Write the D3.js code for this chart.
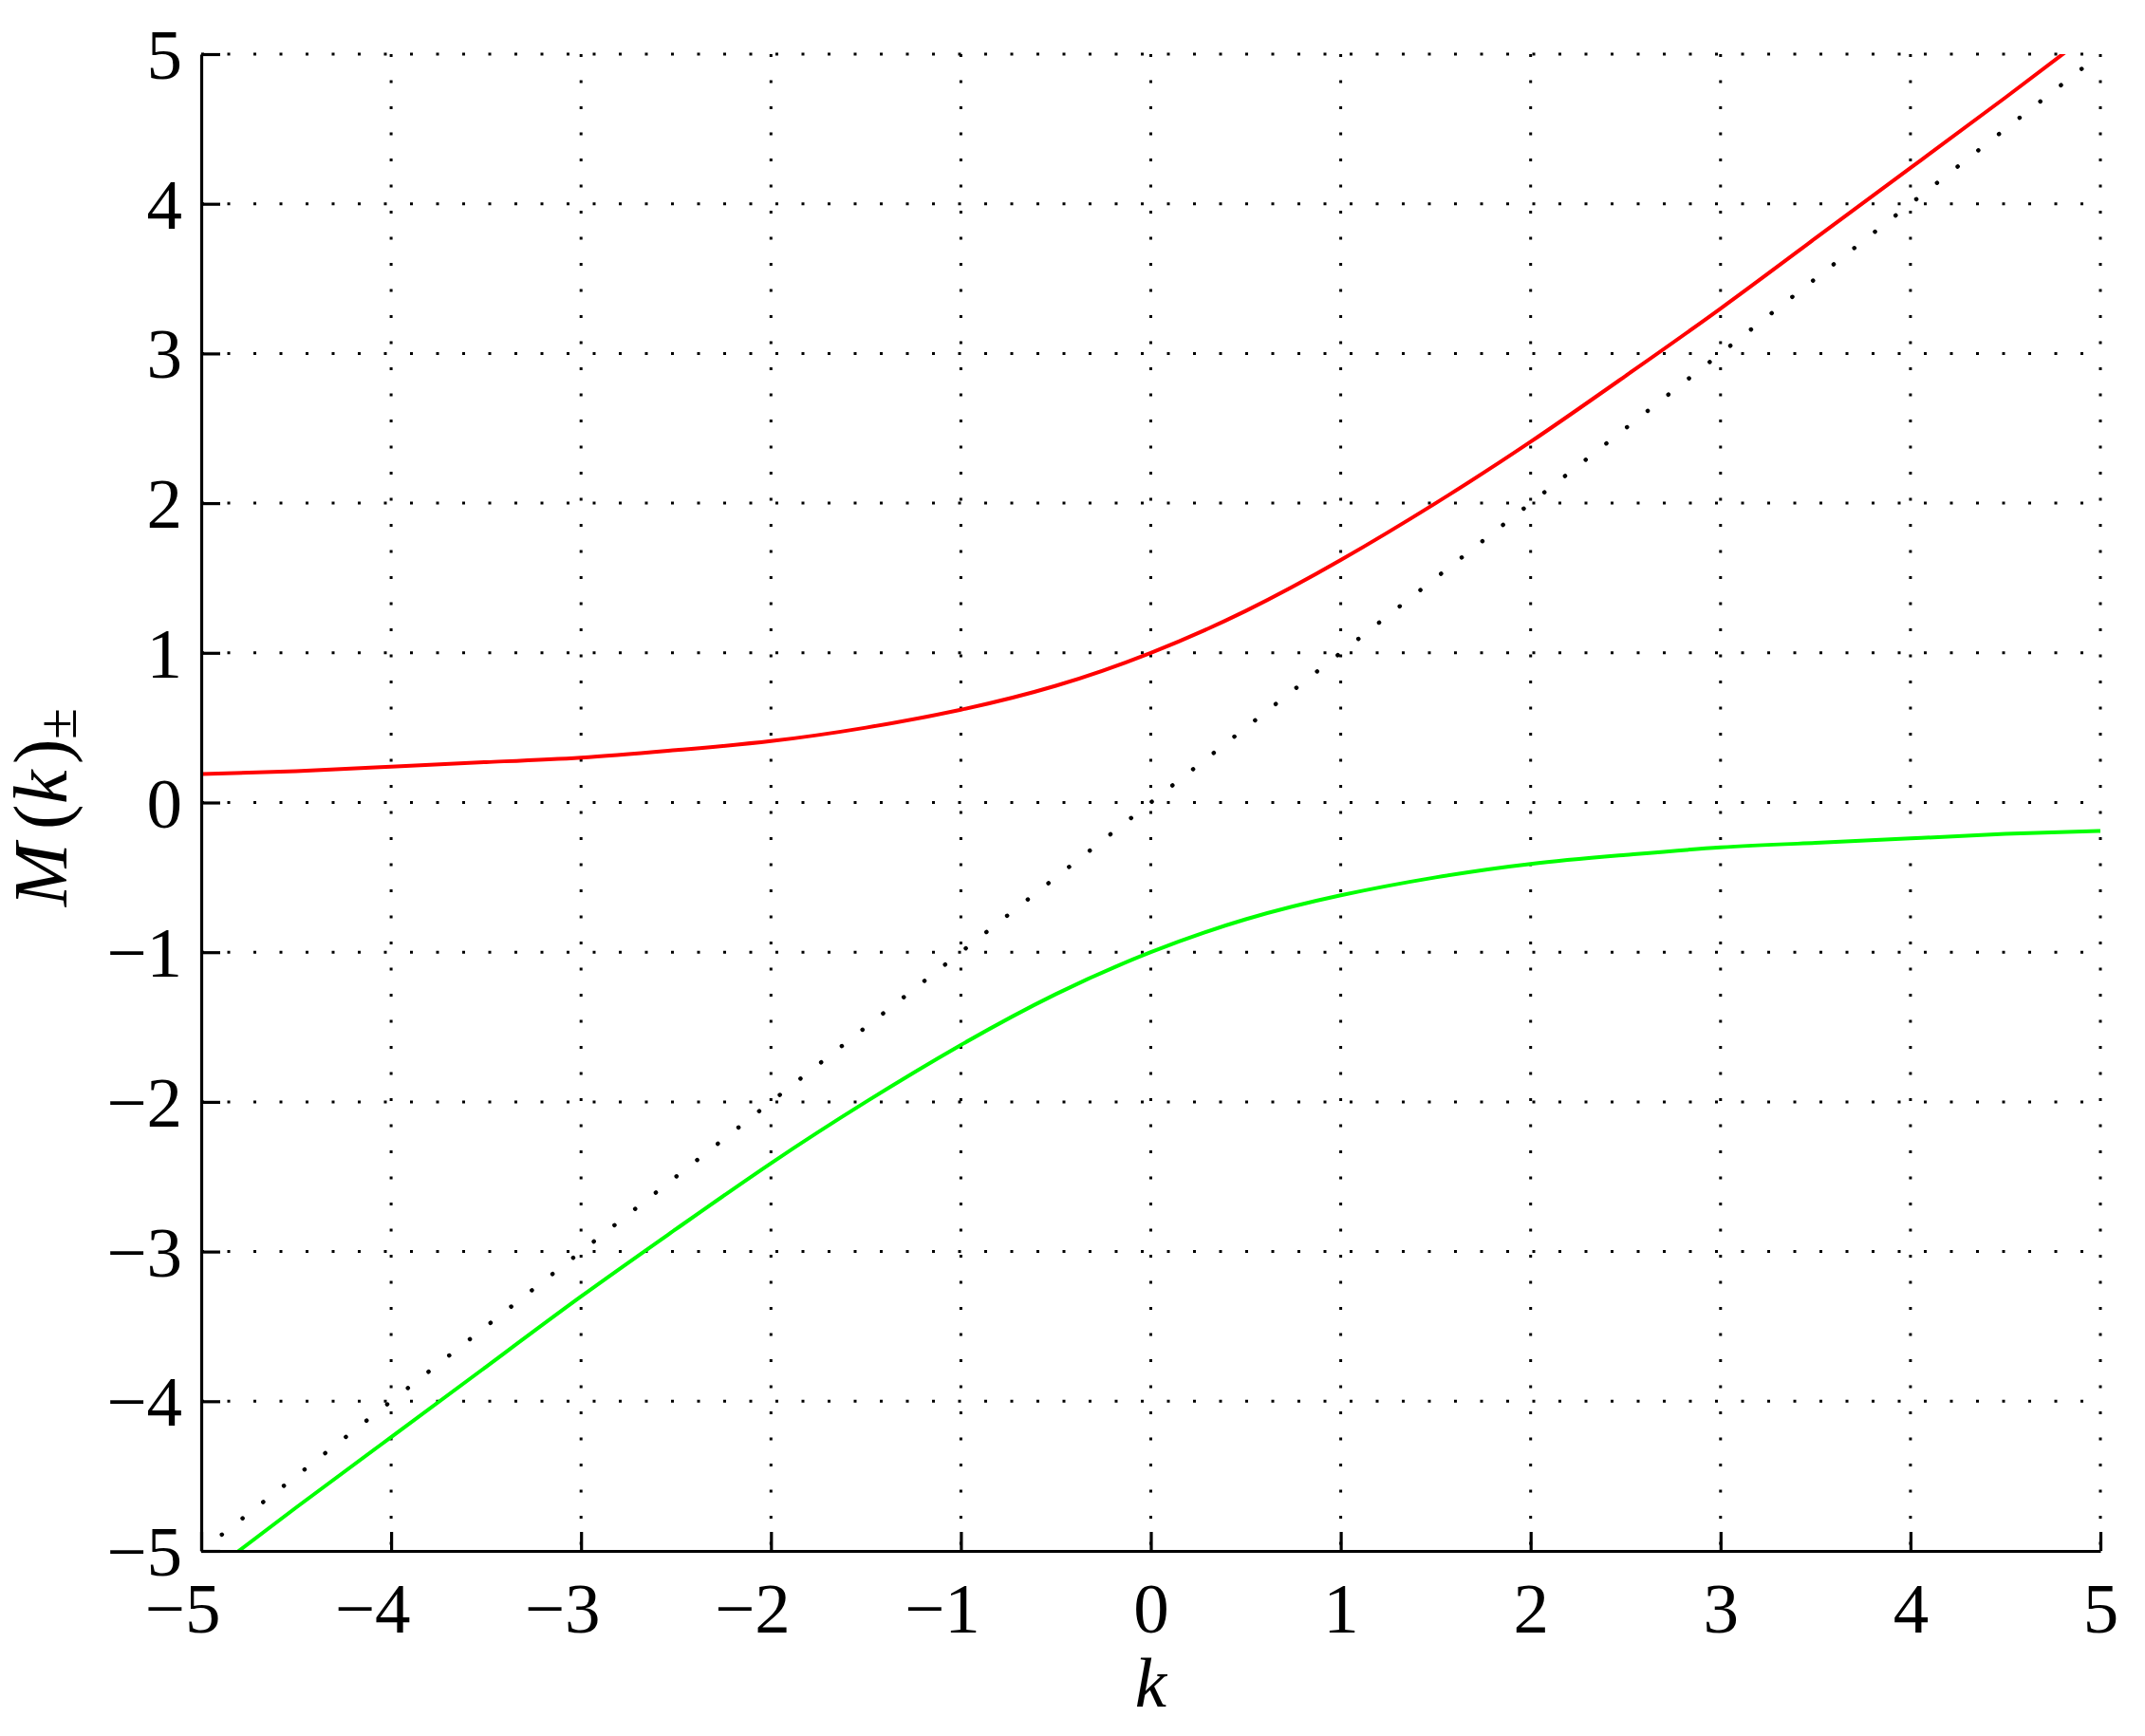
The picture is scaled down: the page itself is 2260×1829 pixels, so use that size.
<!DOCTYPE html>
<html>
<head>
<meta charset="utf-8">
<script src="https://cdn.jsdelivr.net/npm/d3@7"></script>
<style>
  body { margin: 0; background: #fff; }
</style>
</head>
<body>
<div id="chart"></div>
<script>
// values
const kValues = [-5, -4.5, -4, -3.5, -3, -2.5, -2, -1.5, -1, -0.5,
  0, 0.5, 1, 1.5, 2, 2.5, 3, 3.5, 4, 4.5, 5];
const mPlus = [0.19, 0.21, 0.24, 0.27, 0.30, 0.35, 0.41, 0.50, 0.62, 0.78,
  1.00, 1.28, 1.62, 2.00, 2.41, 2.85, 3.30, 3.77, 4.24, 4.71, 5.19];
const mMinus = [-5.19, -4.71, -4.24, -3.77, -3.30, -2.85, -2.41, -2.00, -1.62, -1.28,
  -1.00, -0.78, -0.62, -0.50, -0.41, -0.35, -0.30, -0.27, -0.24, -0.21, -0.19];
const diagK = [-5, 5];
const diagM = [-5, 5];
const xTicks = [-5, -4, -3, -2, -1, 0, 1, 2, 3, 4, 5];
const yTicks = [-5, -4, -3, -2, -1, 0, 1, 2, 3, 4, 5];

const width = 2260;
const height = 1829;
const margin = {top: 57, right: 47, bottom: 195, left: 212};
const font = "'Liberation Serif', 'Times New Roman', serif";

const svg = d3.select("#chart")
  .append("svg")
  .attr("width", width)
  .attr("height", height)
  .style("background-color", "#fff");

const x = d3.scaleLinear().domain([-5, 5]).range([margin.left, width - margin.right]);
const y = d3.scaleLinear().domain([-5, 5]).range([height - margin.bottom, margin.top]);

svg.append("clipPath")
  .attr("id", "plot-clip")
  .append("rect")
  .attr("x", x(-5))
  .attr("y", y(5))
  .attr("width", x(5) - x(-5))
  .attr("height", y(-5) - y(5));

// dotted grid
const grid = svg.append("g")
  .attr("stroke", "#000")
  .attr("stroke-width", 3)
  .attr("stroke-dasharray", "3 24.5");

grid.selectAll("line.h")
  .data(yTicks.slice(1))
  .join("line")
  .attr("class", "h")
  .attr("x1", x(-5))
  .attr("x2", x(5))
  .attr("y1", d => y(d))
  .attr("y2", d => y(d));

grid.selectAll("line.v")
  .data(xTicks.slice(1))
  .join("line")
  .attr("class", "v")
  .attr("x1", d => x(d))
  .attr("x2", d => x(d))
  .attr("y1", y(5))
  .attr("y2", y(-5));

const plot = svg.append("g").attr("clip-path", "url(#plot-clip)");

// k = M reference line
plot.append("path")
  .datum(diagK.map((k, i) => [k, diagM[i]]))
  .attr("fill", "none")
  .attr("stroke", "#000")
  .attr("stroke-width", 4.5)
  .attr("stroke-linecap", "round")
  .attr("stroke-dasharray", "0.1 27.62")
  .attr("d", d3.line().x(d => x(d[0])).y(d => y(d[1])));

const line = d3.line()
  .x(d => x(d[0]))
  .y(d => y(d[1]))
  .curve(d3.curveNatural);

plot.append("path")
  .datum(kValues.map((k, i) => [k, mPlus[i]]))
  .attr("fill", "none")
  .attr("stroke", "#ff0000")
  .attr("stroke-width", 4)
  .attr("d", line);

plot.append("path")
  .datum(kValues.map((k, i) => [k, mMinus[i]]))
  .attr("fill", "none")
  .attr("stroke", "#00ff00")
  .attr("stroke-width", 4)
  .attr("d", line);

// axes, ticks pointing inward
const xAxis = svg.append("g")
  .attr("transform", `translate(0,${y(-5)})`)
  .call(d3.axisBottom(x).tickValues(xTicks).tickSizeInner(-20).tickSizeOuter(0).tickPadding(0));

const yAxis = svg.append("g")
  .attr("transform", `translate(${x(-5)},0)`)
  .call(d3.axisLeft(y).tickValues(yTicks).tickSizeInner(-20).tickSizeOuter(0).tickPadding(20));

[xAxis, yAxis].forEach(a => {
  a.select(".domain").attr("stroke", "#000").attr("stroke-width", 3.2);
  a.selectAll(".tick line").attr("stroke", "#000").attr("stroke-width", 3.2);
  a.selectAll(".tick text")
    .attr("fill", "#000")
    .style("font-family", font)
    .style("font-size", "75px");
});

xAxis.selectAll(".tick text")
  .attr("y", 86)
  .attr("dy", 0)
  .attr("dx", d => d < 0 ? -20 : 0);

yAxis.selectAll(".tick text")
  .attr("dy", "0.34em");

// axis labels
svg.append("text")
  .attr("x", (x(-5) + x(5)) / 2)
  .attr("y", 1798)
  .attr("text-anchor", "middle")
  .style("font-family", font)
  .style("font-size", "75px")
  .style("font-style", "italic")
  .text("k");

// M(k)± spaced like the math typesetting of the original
const yLabel = svg.append("text")
  .attr("transform", `translate(70,955) rotate(-90)`)
  .style("font-family", font)
  .style("font-size", "80px");

yLabel.append("tspan").attr("x", 0).style("font-style", "italic").text("M");
yLabel.append("tspan").attr("x", 81).text("(");
yLabel.append("tspan").attr("x", 108).style("font-style", "italic").text("k");
yLabel.append("tspan").attr("x", 150).text(")");
yLabel.append("tspan").attr("x", 176).attr("dy", 10).style("font-size", "60px").text("±");
</script>
</body>
</html>
